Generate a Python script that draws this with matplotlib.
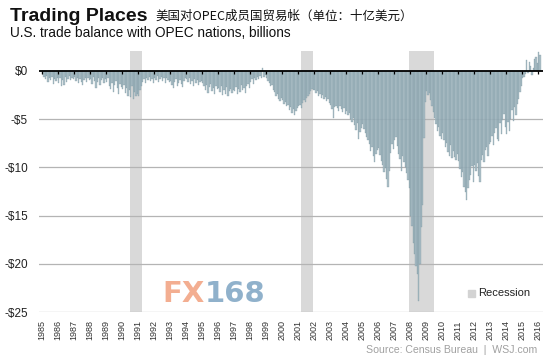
import numpy as np
import matplotlib
matplotlib.use("Agg")
import matplotlib.pyplot as plt
from matplotlib.patches import Rectangle

plt.rcParams['font.family'] = ['Liberation Sans', 'Noto Sans CJK SC', 'DejaVu Sans']

# monthly U.S. trade balance with OPEC, $ billions
balance_by_year = {
    1985: [-0.3, -0.6, -0.9, -0.5, -1.2, -0.8, -1.0, -0.6, -1.4, -0.9, -1.1, -0.7],
    1986: [-1.3, -0.8, -1.6, -1.0, -1.5, -0.6, -1.2, -0.9, -0.5, -1.0, -0.7, -0.9],
    1987: [-0.6, -1.1, -0.8, -1.3, -0.9, -1.2, -1.5, -1.0, -0.8, -1.2, -0.7, -1.0],
    1988: [-0.9, -1.4, -0.6, -1.1, -1.8, -1.2, -0.8, -1.5, -1.0, -0.7, -1.3, -0.9],
    1989: [-1.2, -0.8, -1.6, -1.9, -1.3, -2.2, -1.5, -1.1, -1.8, -2.4, -1.4, -1.7],
    1990: [-1.9, -1.5, -2.3, -1.8, -2.6, -2.0, -2.7, -1.6, -2.9, -2.2, -2.6, -2.4],
    1991: [-2.6, -2.0, -1.6, -1.2, -0.9, -1.3, -0.8, -1.0, -0.6, -1.1, -0.9, -1.3],
    1992: [-0.7, -1.0, -0.5, -1.2, -0.9, -0.6, -1.1, -0.8, -1.3, -0.7, -1.0, -1.2],
    1993: [-1.1, -1.5, -1.8, -1.2, -0.9, -1.6, -1.3, -1.0, -1.4, -1.7, -1.1, -0.8],
    1994: [-0.9, -1.2, -0.7, -1.4, -1.1, -1.6, -0.9, -1.3, -1.0, -1.5, -1.2, -1.1],
    1995: [-1.3, -1.6, -2.0, -1.5, -2.3, -1.7, -1.4, -2.1, -1.8, -2.4, -1.6, -1.9],
    1996: [-1.8, -2.2, -1.6, -2.5, -2.0, -2.4, -1.7, -2.6, -2.1, -1.9, -2.3, -2.0],
    1997: [-2.1, -1.7, -2.4, -1.9, -2.2, -1.5, -2.0, -1.8, -2.3, -1.6, -1.4, -1.8],
    1998: [-1.2, -0.9, -1.4, -0.7, -1.0, -0.6, -0.9, -0.5, -0.8, 0.3, -0.6, -0.4],
    1999: [-0.8, -1.1, -1.3, -1.6, -1.5, -2.0, -2.2, -2.6, -2.4, -2.9, -3.1, -2.8],
    2000: [-3.0, -3.4, -3.2, -3.7, -3.5, -4.1, -3.8, -4.4, -4.0, -4.6, -4.2, -3.9],
    2001: [-3.7, -3.5, -3.9, -3.3, -3.0, -3.2, -2.8, -2.6, -2.4, -2.1, -1.9, -2.0],
    2002: [-2.0, -2.3, -2.1, -2.6, -2.4, -2.8, -2.5, -2.9, -2.7, -3.1, -2.9, -3.3],
    2003: [-3.5, -4.0, -4.9, -3.8, -3.6, -3.9, -4.2, -3.7, -4.0, -4.3, -3.9, -4.5],
    2004: [-4.2, -4.6, -4.4, -5.0, -5.3, -4.9, -5.6, -6.1, -5.4, -7.1, -6.3, -5.9],
    2005: [-5.5, -6.0, -6.4, -6.9, -7.2, -7.6, -8.3, -7.9, -8.8, -9.5, -8.6, -8.2],
    2006: [-8.0, -8.7, -9.3, -9.8, -10.5, -10.1, -11.2, -12.0, -10.4, -8.5, -7.6, -8.1],
    2007: [-7.2, -6.9, -7.8, -8.6, -9.1, -10.4, -8.8, -9.5, -10.0, -10.6, -11.3, -12.2],
    2008: [-15.0, -16.1, -17.8, -19.0, -20.2, -21.1, -23.9, -20.0, -16.2, -13.9, -7.0, -3.2],
    2009: [-2.1, -2.5, -2.3, -3.0, -3.6, -4.3, -4.9, -5.5, -6.2, -5.8, -6.8, -7.1],
    2010: [-6.5, -7.2, -7.9, -7.5, -8.4, -8.8, -7.7, -9.0, -8.3, -8.9, -9.2, -8.6],
    2011: [-9.4, -10.2, -11.0, -10.5, -12.0, -12.6, -13.4, -12.1, -11.3, -10.8, -9.9, -11.5],
    2012: [-9.8, -10.4, -9.6, -10.9, -11.5, -9.2, -8.7, -9.5, -8.2, -7.9, -8.8, -7.6],
    2013: [-7.4, -6.8, -7.7, -6.5, -5.9, -7.1, -7.3, -5.4, -6.6, -5.1, -4.5, -5.8],
    2014: [-6.6, -5.3, -6.2, -5.0, -4.1, -5.2, -3.8, -4.6, -3.4, -2.9, -2.2, -1.6],
    2015: [-0.7, -0.6, -0.3, 1.1, -0.2, 0.9, 0.5, -0.4, 0.3, 1.2, 1.4, 0.8],
    2016: [1.9, 1.6],
}

recessions = [(1990.5, 1991.25), (2001.17, 2001.92), (2007.92, 2009.5)]
years = list(range(1985, 2017))
ytick_vals = [0, -5, -10, -15, -20, -25]
ytick_labels = ['$0', '-$5', '-$10', '-$15', '-$20', '-$25']

# flatten into month positions
dates, values = [], []
for yr, months in balance_by_year.items():
    for m, v in enumerate(months):
        dates.append(yr + (m + 0.5) / 12)
        values.append(v)
dates = np.array(dates)
values = np.array(values)

fig = plt.figure(figsize=(5.5, 3.58), dpi=100)
ax = fig.add_axes([39 / 550, 1 - 312 / 358, 504 / 550, (312 - 51) / 358])

for start, end in recessions:
    ax.axvspan(start, end, color='#d9d9d9', lw=0, zorder=0)

for v in ytick_vals[1:]:
    ax.axhline(v, color='#b4b4b4', lw=0.9, zorder=1)

ax.bar(dates, values, width=1 / 12 * 0.9, color='#a3b9c2', edgecolor='#6f8c97',
       linewidth=0.2, alpha=0.88, zorder=2)

ax.axhline(0, color='black', lw=1.3, zorder=3)
ax.vlines(years, -0.35, 0, color='black', lw=0.9, zorder=3)

ax.set_xlim(1984.81, 2016.31)
ax.set_ylim(-25, 2.05)
ax.set_yticks(ytick_vals)
ax.set_yticklabels(ytick_labels)
ax.set_xticks(years)
ax.set_xticklabels([str(y) for y in years], rotation=90)
ax.tick_params(axis='y', length=0, pad=8, labelsize=8.5, labelcolor='#222222')
ax.tick_params(axis='x', length=0, pad=6, labelsize=6.5, labelcolor='#333333')
for s in ax.spines.values():
    s.set_visible(False)

fig.text(10 / 550, 1 - 21 / 358, 'Trading Places', fontsize=14, fontweight='bold',
         color='#111111', va='baseline')
fig.text(155 / 550, 1 - 20 / 358, '美国对OPEC成员国贸易帐（单位：十亿美元）', fontsize=9,
         family=['Noto Sans CJK SC', 'DejaVu Sans'], color='#111111', va='baseline')
fig.text(10 / 550, 1 - 37 / 358, 'U.S. trade balance with OPEC nations, billions',
         fontsize=9.8, color='#111111', va='baseline')

# watermark
fig.text(162 / 550, 1 - 302 / 358, 'FX', fontsize=21, fontweight='bold',
         family='DejaVu Sans', color='#f2a585', va='baseline', alpha=0.9)
fig.text(205 / 550, 1 - 302 / 358, '168', fontsize=21, fontweight='bold',
         family='DejaVu Sans', color='#84a9c6', va='baseline', alpha=0.9)

# legend
fig.patches.append(Rectangle((468 / 550, 1 - 297 / 358), 7 / 550, 7 / 358,
                             transform=fig.transFigure, color='#d3d3d3'))
fig.text(478 / 550, 1 - 293 / 358, 'Recession', fontsize=8, color='#222222', va='center')

fig.text(537 / 550, 1 - 353 / 358, 'Source: Census Bureau  |  WSJ.com', fontsize=7.6,
         color='#a0a0a0', ha='right', va='baseline')

fig.savefig('out.png', dpi=100)
